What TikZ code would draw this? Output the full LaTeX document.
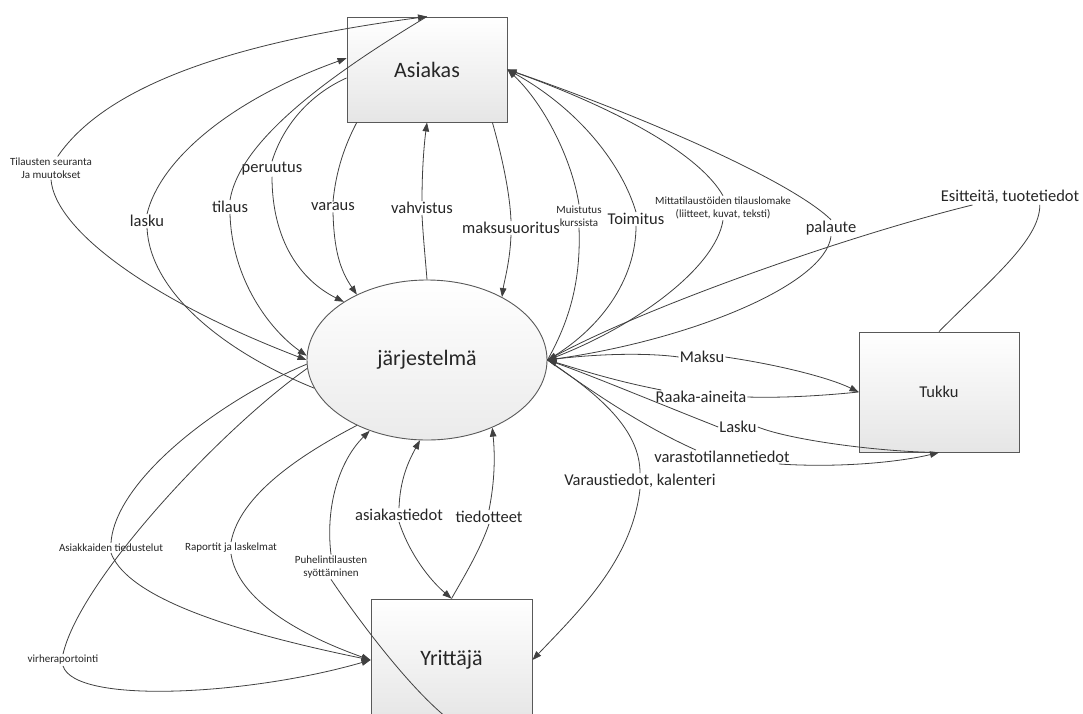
\documentclass[tikz,border=0pt]{standalone}
\usepackage{fontspec}
\setmainfont{Carlito}
\usetikzlibrary{arrows.meta,shapes.geometric,shadings}
\begin{document}
\begin{tikzpicture}[x=1pt,y=-1pt,
  >={Triangle[length=9pt,width=6.5pt]},
  ent/.style={draw=black!65, line width=0.9pt, top color=white, bottom color=black!10,
    minimum width=160pt, font=\fontsize{22}{26}\selectfont, text=black!85},
  flow/.style={draw=black!75, line width=0.8pt},
  lab/.style={inner sep=1pt, font=\fontsize{16.5}{19}\selectfont, text=black!85},
  slab/.style={inner sep=1pt, align=center, font=\fontsize{11}{13}\selectfont, text=black!85}]
\useasboundingbox (0,0) rectangle (1083,713);
\clip (0,0) rectangle (1083,713);
\fill[white] (0,0) rectangle (1083,713);

% entities
\node[ent, minimum height=105pt] (asi) at (427,69.5) {Asiakas};
\node[ent, ellipse, minimum width=240pt, minimum height=160pt, inner sep=0pt, bottom color=black!8] (sys) at (427,360) {järjestelmä};
\node[ent, minimum height=120pt, font=\fontsize{16.5}{19}\selectfont] (tuk) at (939,392) {Tukku};
\node[ent, minimum width=161pt, minimum height=122pt] (yri) at (451.5,660) {Yrittäjä};

% labels
\node[slab] (tsm) at (51,168) {Tilausten seuranta\\Ja muutokset};
\node[lab] (lasku) at (147,221) {lasku};
\node[lab] (tilaus) at (230,207) {tilaus};
\node[lab] (peruutus) at (272,169) {peruutus};
\node[lab] (varaus) at (333,207) {varaus};
\node[lab] (vahvistus) at (422,208) {vahvistus};
\node[lab] (maksus) at (511,228) {maksusuoritus};
\node[slab] (muist) at (579,216) {Muistutus\\kurssista};
\node[lab] (toim) at (636,219) {Toimitus};
\node[slab] (mitta) at (723,208) {Mittatilaustöiden tilauslomake\\(liitteet, kuvat, teksti)};
\node[lab] (pal) at (831,228) {palaute};
\node[lab] (esi) at (1010,197) {Esitteitä, tuotetiedot};
\node[lab] (maksu) at (702,357) {Maksu};
\node[lab] (raaka) at (701,397) {Raaka-aineita};
\node[lab] (laskut) at (738,427) {Lasku};
\node[lab] (varasto) at (722,457) {varastotilannetiedot};
\node[lab] (varaust) at (640,481) {Varaustiedot, kalenteri};
\node[lab] (asiat) at (399,515) {asiakastiedot};
\node[lab] (tiedot) at (489,517) {tiedotteet};
\node[slab] (puhe) at (331,567) {Puhelintilausten\\syöttäminen};
\node[slab] (rap) at (231,548) {Raportit ja laskelmat};
\node[slab] (tied) at (111,548) {Asiakkaiden tiedustelut};
\node[slab] (virhe) at (63,660) {virheraportointi};

% Asiakas <-> jarjestelma
\draw[flow,->] (tsm.60) .. controls (110,80) and (250,40) .. (asi.north);
\draw[flow,->] (tsm.south) .. controls (55,230) and (150,300) .. (sys.west);

\draw[flow,->] (lasku.north) .. controls (160,160) and (230,100) .. (asi.172.5);
\draw[flow] (lasku.south) .. controls (150,290) and (220,350) .. (sys.-166.7);

\draw[flow] (tilaus.north) .. controls (240,140) and (330,75) .. (asi.north);
\draw[flow,->] (tilaus.south) .. controls (232,280) and (270,330) .. (sys.178);

\draw[flow] (peruutus.north) .. controls (285,120) and (315,92) .. (asi.186);
\draw[flow,->] (peruutus.south) .. controls (272,240) and (300,280) .. (sys.145.7);

\draw[flow] (asi.217) .. controls (345,145) and (336,170) .. (varaus.north);
\draw[flow,->] (varaus.south) .. controls (334,250) and (340,270) .. (sys.137);

\draw[flow] (sys.north) .. controls (425,255) and (423,235) .. (vahvistus.south);
\draw[flow,->] (vahvistus.north) .. controls (422,170) and (424,145) .. (asi.south);

\draw[flow] (asi.-39) .. controls (503,160) and (510,195) .. (maksus.north);
\draw[flow,->] (maksus.south) .. controls (510,262) and (504,282) .. (sys.40);

\draw[flow,->] (muist.north) .. controls (572,160) and (545,105) .. (asi.east);
\draw[flow] (muist.south) .. controls (581,280) and (570,320) .. (sys.east);

\draw[flow,->] (toim.north) .. controls (622,165) and (580,110) .. (asi.east);
\draw[flow] (toim.south) .. controls (636,280) and (600,330) .. (sys.east);

\draw[flow,->] (mitta.north) .. controls (700,155) and (620,110) .. (asi.east);
\draw[flow] (mitta.south) .. controls (715,270) and (630,330) .. (sys.east);

\draw[flow] (asi.east) .. controls (640,115) and (790,180) .. (pal.north);
\draw[flow,->] (pal.south) .. controls (825,285) and (690,340) .. (sys.east);

% Tukku
\draw[flow] (tuk.north) .. controls (990,280) and (1040,240) .. (esi.-15);
\draw[flow,->] (esi.192) .. controls (850,235) and (650,305) .. (sys.east);

\draw[flow] (sys.east) .. controls (600,353) and (650,353) .. (maksu.west);
\draw[flow,->] (maksu.east) .. controls (780,365) and (830,378) .. (tuk.west);

\draw[flow] (tuk.west) .. controls (820,396) and (780,398) .. (raaka.east);
\draw[flow,->] (raaka.170) .. controls (610,380) and (575,368) .. (sys.east);

\draw[flow] (tuk.south) .. controls (880,452) and (790,440) .. (laskut.east);
\draw[flow,->] (laskut.west) .. controls (650,400) and (590,375) .. (sys.east);

\draw[flow] (sys.east) .. controls (590,390) and (640,425) .. (varasto.165);
\draw[flow,->] (varasto.-7) .. controls (840,468) and (900,462) .. (tuk.south);

% Yrittaja
\draw[flow] (sys.east) .. controls (600,395) and (640,430) .. (varaust.north);
\draw[flow,->] (varaust.south) .. controls (632,560) and (580,610) .. (yri.east);

\draw[flow,->] (asiat.north) .. controls (400,480) and (408,462) .. (sys.-95);
\draw[flow,->] (asiat.south) .. controls (410,555) and (430,580) .. (yri.north);

\draw[flow,->] (tiedot.north) .. controls (495,480) and (495,455) .. (sys.-46);
\draw[flow] (yri.north) .. controls (465,575) and (480,550) .. (tiedot.south);

\draw[flow,->] (puhe.north) .. controls (325,505) and (340,460) .. (sys.-129);
\draw[flow] (yri.south) .. controls (410,690) and (355,615) .. (puhe.south);

\draw[flow] (sys.-137) .. controls (300,455) and (240,495) .. (rap.north);
\draw[flow,->] (rap.south) .. controls (238,600) and (300,635) .. (yri.west);

\draw[flow] (sys.182) .. controls (220,400) and (115,480) .. (tied.north);
\draw[flow,->] (tied.south) .. controls (125,590) and (200,625) .. (yri.west);

\draw[flow] (sys.184) .. controls (220,430) and (80,580) .. (virhe.north);
\draw[flow,->] (virhe.south) .. controls (75,705) and (250,695) .. (yri.west);
\end{tikzpicture}
\end{document}
